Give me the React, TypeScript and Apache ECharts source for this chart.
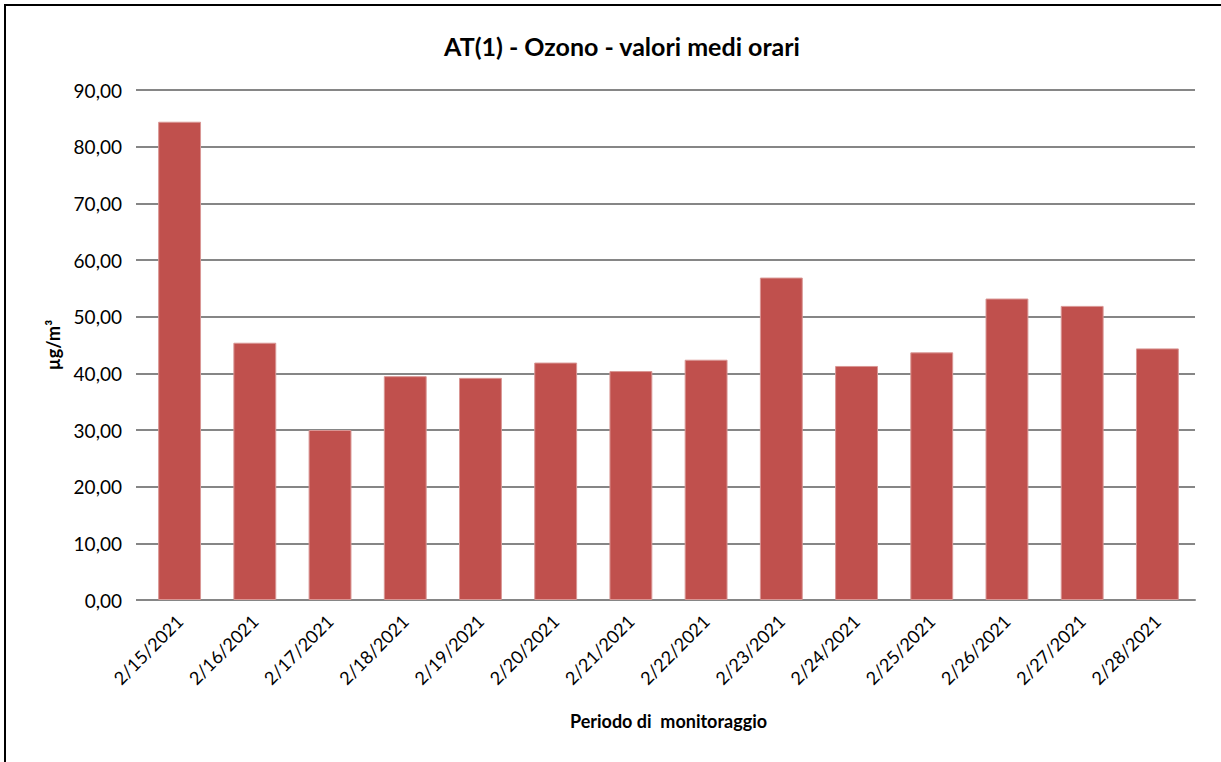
import React, { useEffect, useRef } from "react";
import * as echarts from "echarts";

const categories = [
  "2/15/2021", "2/16/2021", "2/17/2021", "2/18/2021", "2/19/2021", "2/20/2021", "2/21/2021",
  "2/22/2021", "2/23/2021", "2/24/2021", "2/25/2021", "2/26/2021", "2/27/2021", "2/28/2021",
];
const ozoneValues = [84.4, 45.4, 30.0, 39.5, 39.2, 41.9, 40.4, 42.4, 56.9, 41.3, 43.7, 53.2, 51.9, 44.4];
const titleText = "AT(1) - Ozono - valori medi orari";
const yAxisName = "µg/m³";
const xAxisName = "Periodo di  monitoraggio";

const FONT = "Lato, 'Open Sans', sans-serif";

export default function App() {
  const ref = useRef<HTMLDivElement>(null);
  useEffect(() => {
    if (!ref.current) return;
    const chart = echarts.init(ref.current, null, { renderer: "svg" });
    chart.setOption({
      animation: false,
      backgroundColor: "#ffffff",
      title: {
        text: titleText,
        left: 617,
        top: 28,
        textAlign: "center",
        textStyle: { fontFamily: FONT, fontWeight: "bold", fontSize: 25, color: "#000" },
      },
      graphic: [
        {
          type: "rect",
          shape: { x: 5, y: 5, width: 1240, height: 780 },
          style: { fill: "none", stroke: "#000", lineWidth: 2 },
          silent: true,
        },
      ],
      grid: { left: 142, right: 26, top: 90, bottom: 162, containLabel: false },
      xAxis: {
        type: "category",
        data: categories,
        axisLine: { lineStyle: { color: "#868686", width: 2 } },
        axisTick: { show: false },
        axisLabel: {
          rotate: 45,
          fontFamily: FONT,
          fontSize: 18,
          color: "#000",
          margin: 18,
          interval: 0,
        },
        name: xAxisName,
        nameLocation: "middle",
        nameGap: 112,
        nameTextStyle: { fontFamily: FONT, fontWeight: "bold", fontSize: 18, color: "#000" },
      },
      yAxis: {
        type: "value",
        min: 0,
        max: 90,
        interval: 10,
        axisLine: { show: false },
        axisTick: { show: true, length: 6, inside: false, lineStyle: { color: "#868686", width: 2 } },
        splitLine: { lineStyle: { color: "#868686", width: 2 } },
        axisLabel: {
          fontFamily: FONT,
          fontSize: 19,
          color: "#000",
          margin: 20,
          formatter: (v: number) => v.toFixed(2).replace(".", ","),
        },
        name: yAxisName,
        nameLocation: "middle",
        nameGap: 80,
        nameRotate: 90,
        nameTextStyle: { fontFamily: FONT, fontWeight: "bold", fontSize: 18, color: "#000" },
      },
      series: [
        {
          type: "bar",
          data: ozoneValues,
          barCategoryGap: "43%",
          itemStyle: { color: "#C0504D", borderColor: "#D99694", borderWidth: 1 },
        },
      ],
    });
    return () => chart.dispose();
  }, []);
  return (
    <div
      ref={ref}
      style={{ position: "fixed", left: 0, top: 0, width: 1221, height: 762, background: "#fff" }}
    />
  );
}
